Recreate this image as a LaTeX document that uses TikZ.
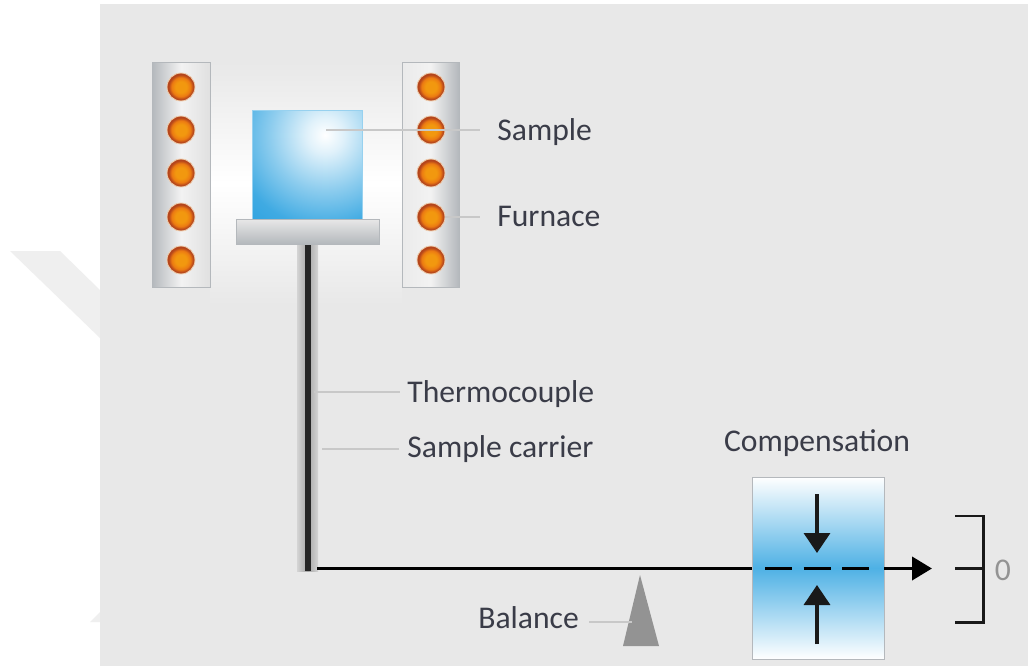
\documentclass[tikz,border=0pt]{standalone}
\usepackage{fontspec}
\setmainfont{Carlito}
\usepackage{tikz}
\usetikzlibrary{arrows.meta, calc}
\usepackage{xcolor}
\definecolor{pagegray}{HTML}{E8E8E8}
\definecolor{markgray}{HTML}{EFEFEF}
\definecolor{wallgray}{HTML}{B4B8BC}
\definecolor{rodgray}{HTML}{D4D4D4}
\definecolor{sampleblue}{HTML}{2FA3E0}
\definecolor{labelink}{HTML}{3A3C48}
\definecolor{leadgray}{HTML}{C8C8C8}
\definecolor{coilcore}{HTML}{F2980F}
\definecolor{coilmid}{HTML}{EC7A12}
\definecolor{coilrim}{HTML}{B4451C}
\pgfdeclareradialshading{coilball}{\pgfpoint{0bp}{0bp}}{color(0bp)=(coilcore); color(10bp)=(coilcore); color(17bp)=(coilmid); color(22bp)=(coilrim); color(25bp)=(coilrim); color(50bp)=(coilrim)}
\pgfdeclareradialshading{sampleglow}{\pgfpoint{0bp}{0bp}}{color(0bp)=(white); color(4bp)=(sampleblue!15!white); color(12bp)=(sampleblue!55!white); color(20bp)=(sampleblue!92!white); color(25bp)=(sampleblue); color(50bp)=(sampleblue)}
\tikzset{
	x=0.02cm, y=-0.02cm,
	lbl/.style={text=labelink, inner sep=0pt, font=\fontsize{18}{20}\selectfont},
	lead/.style={draw=leadgray, line width=0.7pt},
	wall/.style={draw=wallgray, line width=0.5pt},
	coil/.style={circle, minimum size=0.56cm, inner sep=0pt, draw=orange!25!pagegray, line width=0.5pt, shading=coilball},
	beam/.style={draw=black, line width=2.2pt},
	pointer/.style={line width=2pt, draw=black!90, -{Triangle[length=0.4cm,width=0.52cm]}}
}
\begin{document}
\begin{tikzpicture}
	\useasboundingbox (0,0) rectangle (1028,666);
	\fill[white] (0,0) rectangle (1028,666);
	\fill[markgray] (10,251) -- (60,251) -- (100,290) -- (100,338) -- cycle;
	\fill[markgray] (90,622) -- (100,612) -- (100,622) -- cycle;
	\fill[pagegray] (100,4) rectangle (1028,666);

	% furnace
	\shade[top color=pagegray, bottom color=pagegray, middle color=white] (210,62) rectangle (402,305);
	\draw[wall, left color=wallgray, right color=white!88!black, middle color=white!95!black] (152,62) rectangle (210,287);
	\draw[wall, left color=white!92!black, right color=wallgray, middle color=white!95!black] (402,62) rectangle (459,287);
	\foreach \yy [count=\i] in {87,130,173,217,260} {
		\node[coil] (cl\i) at (181,\yy) {};
		\node[coil] (cr\i) at (431,\yy) {};
	}

	% sample
	\begin{scope}
		\clip (252,110) rectangle (362,220);
		\shade[shading=sampleglow] (325,135) circle (115);
	\end{scope}
	\node[minimum width=2.2cm, minimum height=2.2cm, inner sep=0pt, draw=sampleblue!50!white, line width=0.3pt] (sample) at (307,165) {};

	% carrier
	\shade[left color=rodgray, right color=rodgray, middle color=gray!70] (297,244) rectangle (318,571);
	\draw[draw=black!85, line width=3pt] (308,244) -- (308,571);
	\draw[top color=pagegray, bottom color=wallgray, draw=wallgray] (236,219) rectangle (379,244);

	% compensation box
	\draw[draw=wallgray, line width=0.5pt, top color=white, bottom color=white, middle color=sampleblue!85!white] (752,477) rectangle (884,659);

	% balance
	\fill[gray!85] (640,575) -- (659,646) -- (623,646) -- cycle;
	\coordinate (bm) at (317,568.5);
	\coordinate (bx) at (752,568.5);
	\coordinate (by) at (884,568.5);
	\coordinate (bz) at (932,568.5);
	\draw[beam] (bm) -- (bx);
	\draw[beam, dash pattern=on 15.5pt off 6.5pt] (765,568.5) -- (869,568.5);
	\draw[line width=2.2pt, -{Triangle[length=0.4cm,width=0.46cm]}] (by) -- (bz);

	\coordinate (dn1) at (817,494);
	\coordinate (dn2) at (817,553);
	\coordinate (up1) at (817,644);
	\coordinate (up2) at (817,585);
	\draw[pointer] (dn1) -- (dn2);
	\draw[pointer] (up1) -- (up2);

	% output bracket
	\draw[line width=1.7pt, draw=black!90] (955,516) -- (983,516) -- (983,622) -- (955,622)
		(955,568.5) -- (983,568.5);
	\node[text=gray!85, inner sep=0pt, anchor=base, font=\fontsize{18}{20}\selectfont] (zero) at (1003,580) {0};

	% labels
	\node[lbl, anchor=base west] (lsample) at (497,140) {Sample};
	\node[lbl, anchor=base west] (lfurnace) at (497,226) {Furnace};
	\node[lbl, anchor=base west] (lthermo) at (407,402) {Thermocouple};
	\node[lbl, anchor=base west] (lcarrier) at (407,457) {Sample carrier};
	\node[lbl, anchor=base] (lcomp) at (817,451) {Compensation};
	\node[lbl, anchor=base west] (lbalance) at (478,628) {Balance};

	\coordinate (tsample) at (326,130);
	\coordinate (tfurnace) at (445,217);
	\coordinate (tthermo) at (314,392);
	\coordinate (tcarrier) at (322,449);
	\coordinate (tbalance) at (632,622);
	\draw[lead, shorten >=0.34cm] (tsample) -- (tsample -| lsample.west);
	\draw[lead, shorten >=0.34cm] (tfurnace) -- (tfurnace -| lfurnace.west);
	\draw[lead, line width=1.4pt, shorten >=0.14cm] (tthermo) -- (tthermo -| lthermo.west);
	\draw[lead, shorten >=0.16cm] (tcarrier) -- (tcarrier -| lcarrier.west);
	\draw[lead, shorten <=0.2cm] (tbalance -| lbalance.east) -- (tbalance);
\end{tikzpicture}
\end{document}
